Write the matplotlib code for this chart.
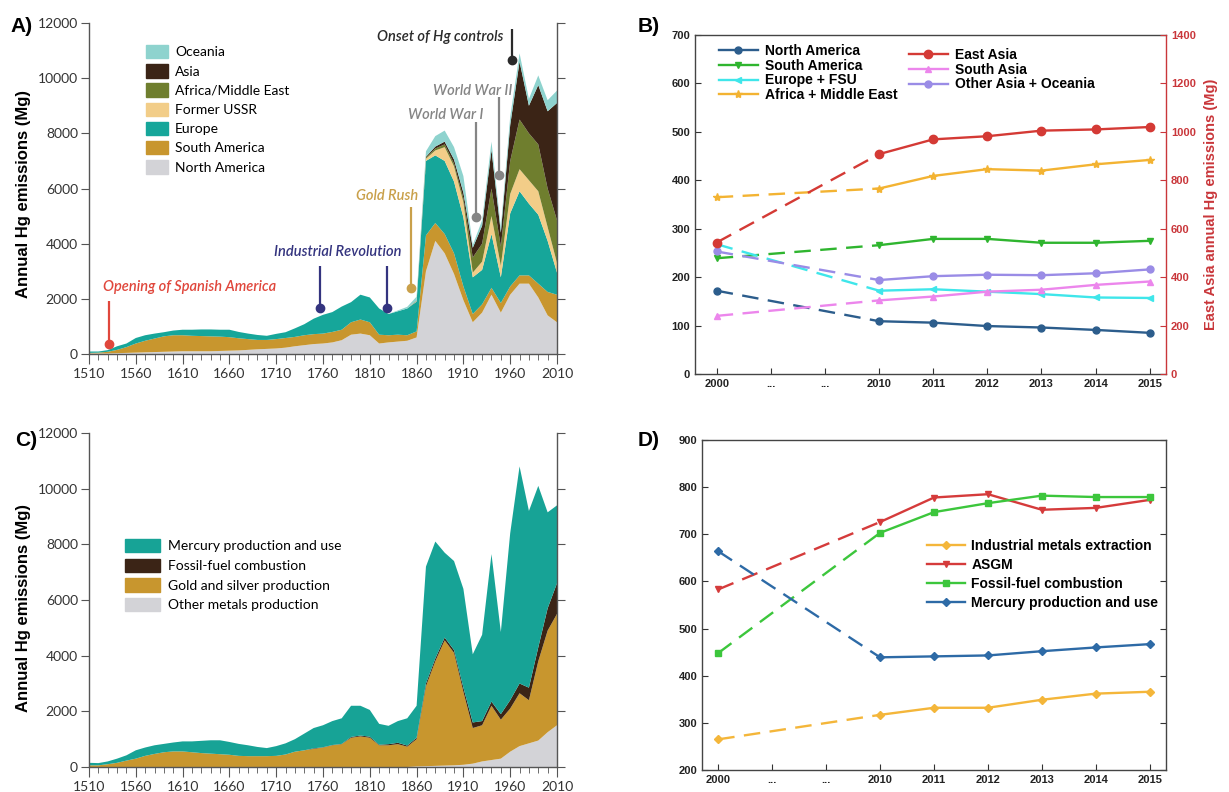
import numpy as np
import matplotlib.pyplot as plt
from matplotlib.patches import Patch

plt.rcParams['font.family'] = ['Lato', 'DejaVu Sans']

# ---------------- data ----------------
years = np.arange(1510, 2011, 10)

# panel A: emissions by region (Mg), one value per decade 1510..2010
north_america = [20, 20, 20, 30, 40, 50, 60, 70, 80, 90,
                 100, 100, 100, 100, 110, 120, 130, 150, 170, 185,
                 200, 230, 280, 320, 360, 380, 420, 500, 700, 740,
                 680, 380, 420, 450, 480, 600, 3000, 4100, 3650, 2900,
                 1950, 1150, 1500, 2150, 1500, 2150, 2550, 2550, 2050, 1400,
                 1150]
south_america = [20, 30, 60, 120, 210, 330, 420, 490, 560, 590,
                 580, 560, 550, 540, 520, 490, 440, 390, 340, 325,
                 340, 350, 340, 360, 360, 360, 380, 380, 450, 510,
                 470, 320, 260, 250, 200, 220, 1300, 650, 700, 750,
                 500, 300, 300, 250, 350, 300, 300, 300, 500, 850,
                 1000]
europe = [50, 40, 60, 130, 130, 200, 200, 180, 150, 170,
          200, 220, 240, 250, 250, 270, 230, 200, 180, 150,
          190, 210, 310, 400, 560, 680, 720, 840, 730, 900,
          900, 950, 770, 850, 970, 1080, 2700, 2450, 2650, 2600,
          2500, 1330, 1250, 1950, 930, 2650, 3050, 2600, 2500, 1850,
          800]
former_ussr = [0] * 35 + [20, 80, 180, 500, 550,
                          550, 170, 300, 650, 420, 700, 800, 850, 850, 500,
                          350]
africa_me = [0] * 35 + [10, 40, 70, 100, 100,
                        150, 550, 650, 1000, 700, 1200, 1800, 1700, 1700, 1400,
                        1550]
asia = [0] * 35 + [10, 30, 70, 100, 150,
                   200, 350, 650, 1400, 500, 1300, 2100, 1000, 2150, 2800,
                   4250]
oceania = [0] * 33 + [30, 60] + [140, 200, 380, 400, 450,
                                 600, 100, 200, 300, 200, 300, 300, 250, 350, 400,
                                 450]

# panel C: emissions by sector (Mg)
other_metals = [0] * 35 + [20, 30, 40, 50, 60,
                           80, 120, 200, 250, 300, 550, 750, 850, 950, 1250,
                           1500]
gold_silver = [60, 60, 100, 150, 230, 300, 400, 470, 530, 560,
               560, 530, 500, 480, 460, 440, 400, 390, 390, 390,
               400, 450, 550, 600, 650, 700, 780, 820, 1050, 1100,
               1050, 780, 780, 820, 730, 980, 2870, 3760, 4500, 4040,
               2620, 1280, 1300, 1950, 1400, 1550, 1900, 1550, 2850, 3650,
               4000]
fossil_fuel = [0] * 24 + [20, 10, 10, 10, 30, 30,
                          40, 20, 40, 50, 40, 50, 100, 100, 100, 100,
                          150, 200, 150, 150, 200, 300, 350, 450, 500, 800,
                          1100]
mercury_use = [90, 80, 100, 150, 190, 300, 300, 310, 300, 320,
               360, 390, 440, 480, 500, 460, 430, 390, 330, 290,
               350, 400, 450, 600, 730, 790, 860, 920, 1120, 1070,
               960, 750, 660, 780, 980, 1150, 4200, 4200, 3050, 3200,
               3550, 2450, 3100, 5300, 2950, 6000, 7800, 6350, 5800, 3450,
               2800]

# historical events marked in panel A: (label, years, text year, text value, line top, dot value, colour)
events = [
    ("Opening of Spanish America", [1531], 1525, 2420, 1935, 363, "#e0473c"),
    ("Industrial Revolution", [1757, 1828], 1708, 3690, 3206, 1657, "#34347f"),
    ("Gold Rush", [1854], 1795, 5746, 5347, 2395, "#c9a04a"),
    ("World War I", [1923], 1851, 8650, 8407, 4984, "#858585"),
    ("World War II", [1948.5], 1877, 9532, 9315, 6472, "#858585"),
    ("Onset of Hg controls", [1962], 1818, 11492, 11795, 10670, "#2a2a2a"),
]

# panels B and D: recent years
recent_labels = ['2000', '...', '...', '2010', '2011', '2012', '2013', '2014', '2015']
recent_pos = [0, 3, 4, 5, 6, 7, 8]  # positions of 2000, 2010..2015

na_recent = [172, 109, 106, 99, 96, 91, 85]
sa_recent = [239, 266, 279, 279, 271, 271, 275]
eu_recent = [268, 172, 175, 170, 165, 158, 157]
afr_recent = [365, 383, 409, 423, 420, 433, 442]
east_asia_recent = [543, 908, 969, 982, 1005, 1010, 1020]
south_asia_recent = [120, 152, 160, 170, 174, 184, 191]
other_asia_recent = [253, 194, 202, 205, 204, 208, 216]

ind_metals = [265, 317, 332, 332, 349, 362, 366]
asgm = [583, 726, 778, 785, 752, 756, 773]
fossil_recent = [448, 703, 747, 766, 782, 779, 779]
mercury_recent = [664, 439, 441, 443, 452, 460, 467]

# ---------------- figure ----------------
W, H = 1229, 792
fig = plt.figure(figsize=(W / 100, H / 100), dpi=100)


def rect(l, t, r, b):
    return [l / W, 1 - b / H, (r - l) / W, (b - t) / H]


def style_hist(ax):
    ax.set_xlim(1510, 2010)
    ax.set_ylim(0, 12000)
    ax.spines['top'].set_visible(False)
    for s in ['left', 'right', 'bottom']:
        ax.spines[s].set_color('#555555')
        ax.spines[s].set_linewidth(1.0)
    ax.set_xticks(np.arange(1510, 2011, 50))
    ax.set_xticks(np.arange(1510, 2011, 10), minor=True)
    ax.set_yticks(np.arange(0, 12001, 2000))
    ax.tick_params(axis='y', direction='out', length=6, right=True, color='#555555',
                   labelsize=10, labelcolor='#333333', pad=2)
    ax.tick_params(axis='x', which='major', direction='out', length=7, color='#555555',
                   labelsize=10, labelcolor='#333333', pad=3)
    ax.tick_params(axis='x', which='minor', direction='out', length=4, color='#555555')


hist_label = dict(family='Liberation Sans', weight='bold', size=12)

# ----- A -----
axA = fig.add_axes(rect(89, 23, 557, 354))
region_colors = ['#d3d3d7', '#c8962e', '#16a69a', '#f2cd88', '#6f7e2e', '#3b2416', '#8ed3ce']
axA.stackplot(years, north_america, south_america, europe, former_ussr, africa_me, asia, oceania,
              colors=region_colors, linewidth=0)
style_hist(axA)

for label, xs, tx, ty, ytop, ydot, col in events:
    for x in xs:
        axA.plot([x, x], [ytop, ydot], color=col, lw=1.6, solid_capstyle='butt', zorder=5)
        axA.plot(x, ydot, 'o', ms=6, color=col, zorder=6)
    axA.text(tx, ty, label, color=col, fontsize=10.5, fontstyle='italic', fontweight='semibold',
             ha='left', va='center', zorder=6)

region_names = ['North America', 'South America', 'Europe', 'Former USSR',
                'Africa/Middle East', 'Asia', 'Oceania']
handles = [Patch(color=c, label=n) for c, n in zip(region_colors, region_names)][::-1]
axA.legend(handles=handles, loc='upper left', bbox_to_anchor=(146 / W, 1 - 45 / H),
           bbox_transform=fig.transFigure, frameon=False, borderpad=0, borderaxespad=0,
           handlelength=1.6, handleheight=1.1, handletextpad=0.5, labelspacing=0.42,
           prop=dict(family='Lato', size=10))
fig.text(24 / W, 1 - 194 / H, 'Annual Hg emissions (Mg)', rotation=90, ha='center', va='center', **hist_label)

# ----- C -----
axC = fig.add_axes(rect(89, 433, 557, 767))
sector_colors = ['#d3d3d7', '#c8962e', '#3b2416', '#17a396']
axC.stackplot(years, other_metals, gold_silver, fossil_fuel, mercury_use,
              colors=sector_colors, linewidth=0)
style_hist(axC)
sector_names = ['Other metals production', 'Gold and silver production',
                'Fossil-fuel combustion', 'Mercury production and use']
handles = [Patch(color=c, label=n) for c, n in zip(sector_colors, sector_names)][::-1]
axC.legend(handles=handles, loc='upper left', bbox_to_anchor=(125 / W, 1 - 539 / H),
           bbox_transform=fig.transFigure, frameon=False, borderpad=0, borderaxespad=0,
           handlelength=2.5, handleheight=1.1, handletextpad=0.6, labelspacing=0.45,
           prop=dict(family='Lato', size=10))
fig.text(24 / W, 1 - 608 / H, 'Annual Hg emissions (Mg)', rotation=90, ha='center', va='center', **hist_label)

# ----- B and D helpers -----
arial_bold = dict(family='Liberation Sans', weight='bold')


def style_recent(ax):
    ax.set_xlim(-0.4, 8.3)
    ax.set_xticks(range(9))
    ax.set_xticklabels(recent_labels)
    ax.tick_params(direction='in', length=4, labelsize=8, color='#333333', labelcolor='#222222')
    for lab in ax.get_xticklabels() + ax.get_yticklabels():
        lab.set_fontfamily('Liberation Sans')
        lab.set_fontweight('bold')
    for s in ax.spines.values():
        s.set_color('#444444')
        s.set_linewidth(1.0)


def draw_series(ax, y, color, marker, label, ms=5):
    ax.plot(recent_pos[:2], y[:2], color=color, lw=1.7, dashes=(7, 4), marker=marker,
            ms=ms, markevery=[0])
    h, = ax.plot(recent_pos[1:], y[1:], color=color, lw=1.7, marker=marker, ms=ms, label=label)
    return h


# ----- B -----
axB = fig.add_axes(rect(695, 35, 1166, 374))
axB2 = axB.twinx()
red = '#c9363a'
h_na = draw_series(axB, na_recent, '#2c5d8c', 'o', 'North America')
h_sa = draw_series(axB, sa_recent, '#2fb52f', 'v', 'South America')
h_eu = draw_series(axB, eu_recent, '#3fe6ea', '<', 'Europe + FSU')
h_af = draw_series(axB, afr_recent, '#f3b332', '*', 'Africa + Middle East', ms=6)
h_ea = draw_series(axB2, east_asia_recent, '#d43a35', 'o', 'East Asia', ms=6)
h_sas = draw_series(axB, south_asia_recent, '#ec86ec', '^', 'South Asia')
h_oa = draw_series(axB, other_asia_recent, '#9a8ce6', 'o', 'Other Asia + Oceania')

axB.set_ylim(0, 700)
axB.set_yticks(range(0, 701, 100))
style_recent(axB)
axB.spines['right'].set_visible(False)
axB2.set_ylim(0, 1400)
axB2.set_yticks(range(0, 1401, 200))
axB2.tick_params(direction='in', length=4, labelsize=8, color=red, labelcolor=red)
for lab in axB2.get_yticklabels():
    lab.set_fontfamily('Liberation Sans')
    lab.set_fontweight('bold')
for s in ['left', 'top', 'bottom']:
    axB2.spines[s].set_visible(False)
axB2.spines['right'].set_color(red)
axB2.spines['right'].set_linewidth(1.0)
axB2.set_ylabel('East Asia annual Hg emissions (Mg)', color=red, fontsize=10.5, labelpad=6, **arial_bold)

leg_prop = dict(family='Liberation Sans', weight='bold', size=10)
leg1 = axB2.legend(handles=[h_na, h_sa, h_eu, h_af], loc='upper left',
                   bbox_to_anchor=(719 / W, 1 - 44 / H), bbox_transform=fig.transFigure,
                   frameon=False, borderpad=0, borderaxespad=0, handlelength=2.8,
                   handletextpad=0.5, labelspacing=0.05, prop=leg_prop)
axB2.add_artist(leg1)
axB2.legend(handles=[h_ea, h_sas, h_oa], loc='upper left',
            bbox_to_anchor=(909 / W, 1 - 48 / H), bbox_transform=fig.transFigure,
            frameon=False, borderpad=0, borderaxespad=0, handlelength=2.8,
            handletextpad=0.5, labelspacing=0.05, prop=leg_prop)

# ----- D -----
axD = fig.add_axes(rect(702, 440, 1166, 770))
h1 = draw_series(axD, ind_metals, '#f4b63a', 'D', 'Industrial metals extraction', ms=4.5)
h2 = draw_series(axD, asgm, '#d53b3b', 'v', 'ASGM')
h3 = draw_series(axD, fossil_recent, '#3cc63c', 's', 'Fossil-fuel combustion', ms=4.5)
h4 = draw_series(axD, mercury_recent, '#2d6aa6', 'D', 'Mercury production and use', ms=4.5)
axD.set_ylim(200, 900)
axD.set_yticks(range(200, 901, 100))
style_recent(axD)
axD.tick_params(axis='y', right=True)
axD.set_xlim(-0.3, 8.3)
axD.legend(handles=[h1, h2, h3, h4], loc='upper left',
           bbox_to_anchor=(927 / W, 1 - 539 / H), bbox_transform=fig.transFigure,
           frameon=False, borderpad=0, borderaxespad=0, handlelength=2.7,
           handletextpad=0.5, labelspacing=0.35, prop=leg_prop)

# panel letters
for letter, x, y in [('A)', 22, 26), ('B)', 649, 27), ('C)', 26, 441), ('D)', 649, 441)]:
    fig.text(x / W, 1 - y / H, letter, ha='center', va='center', fontsize=15, **arial_bold)

fig.savefig('out.png', dpi=100)
